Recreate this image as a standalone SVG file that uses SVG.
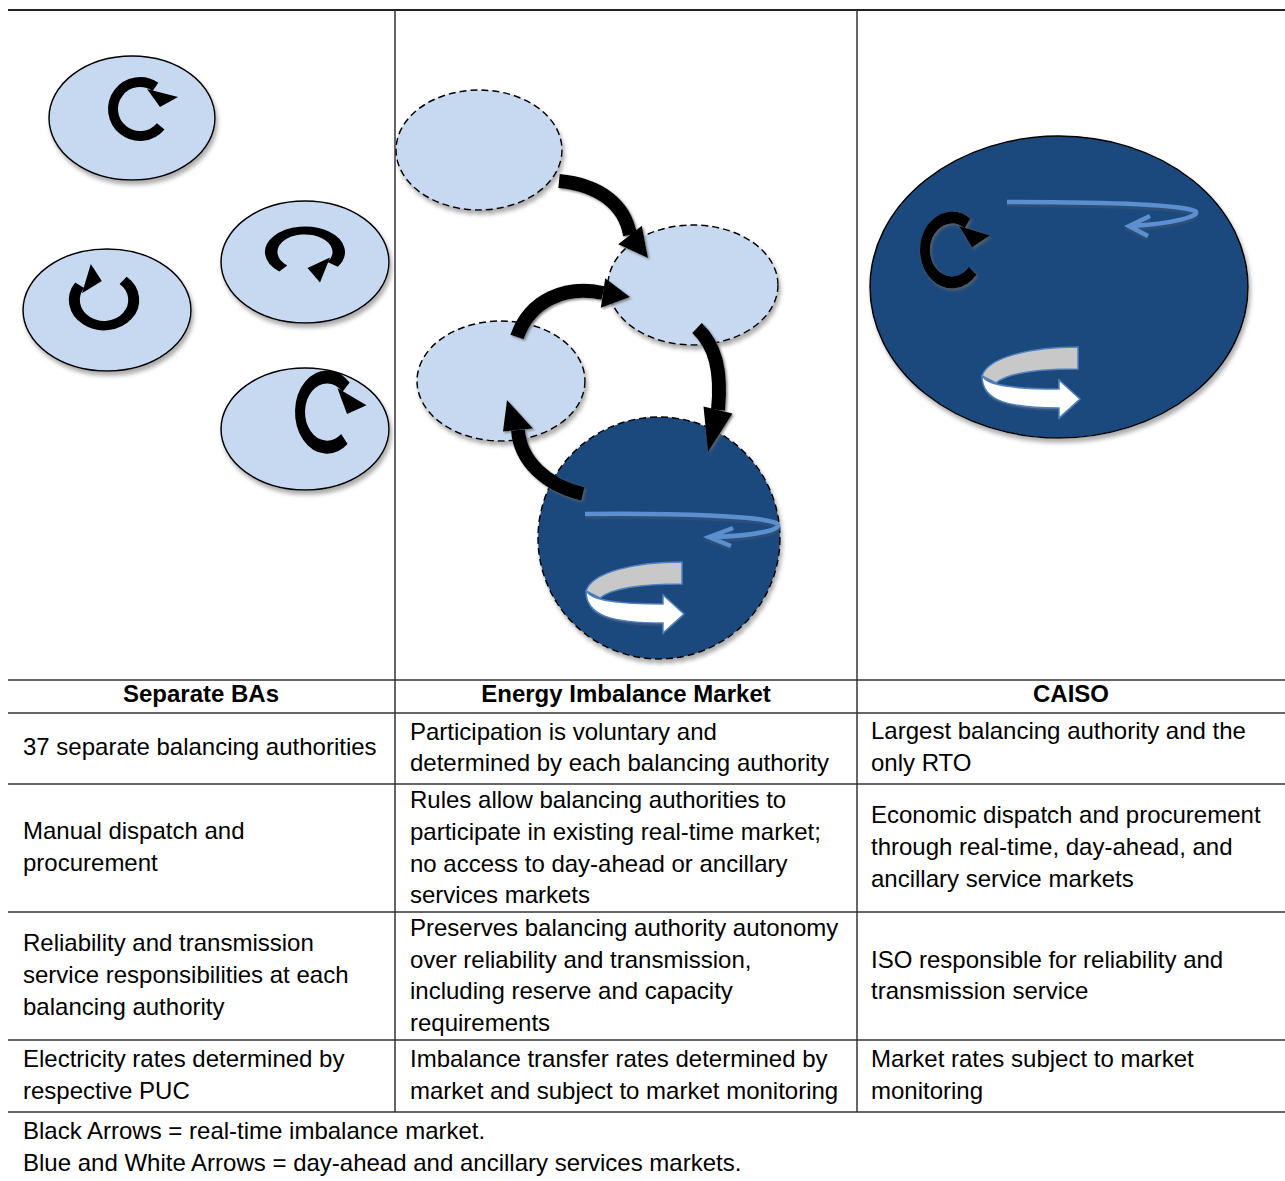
<svg xmlns="http://www.w3.org/2000/svg" xmlns:xlink="http://www.w3.org/1999/xlink" width="1285" height="1181" viewBox="0 0 1285 1181">
<style>
.t{font-family:"Liberation Sans",Arial,sans-serif;font-size:24px;fill:#000}
.h{font-weight:bold;text-anchor:middle}
.ba{fill:#c6d9f1;stroke:#000;stroke-width:1.5}
.eim{fill:#c6d9f1;stroke:#000;stroke-width:1.5;stroke-dasharray:7 4}
.dark{fill:#1f497d;stroke:#000;stroke-width:1.5}
.grid{stroke:#333;stroke-width:1.5;fill:none}
.blk{fill:none;stroke:#000;stroke-width:14}
.blue{fill:none;stroke:#5b8fd0;stroke-width:4.5;stroke-linejoin:miter}
.blueS{fill:none;stroke:#2c4f7a;stroke-width:4.5}
</style>
<defs>
<filter id="sh" x="-20%" y="-20%" width="140%" height="140%">
<feDropShadow dx="2" dy="4" stdDeviation="2" flood-color="#777" flood-opacity="0.6"/>
</filter>
<filter id="hal" x="-20%" y="-20%" width="140%" height="140%">
<feDropShadow dx="1.5" dy="1.5" stdDeviation="1.2" flood-color="#666" flood-opacity="0.8"/>
</filter>
<g id="carr">
<path d="M20.7,17.4 A27,27 0 1 1 15.5,-22.1" fill="none" stroke="#000" stroke-width="10"/>
<polygon points="7,-20 38,-12 20,-2" fill="#000"/>
</g>
<g id="ribbon">
<path d="M682,562 L682,584 C645,584 612,588 600,598 L586,591 C592,572 635,562 682,562 Z" fill="#c8c8c8" stroke="#4f81bd" stroke-width="1.5"/>
<path d="M588,596 C592,606 622,608 663,608 L663,598 L684,616 L663,635 L663,626 C615,626 585,618 588,596 Z" fill="#34557d"/>
<path d="M586,590 C590,601 620,604 663,604 L663,595 L684,614 L663,633 L663,623 C615,623 585,617 586,590 Z" fill="#fff" stroke="#4f81bd" stroke-width="1.5"/>
</g>
</defs>

<g id="table-grid">
<line x1="8" y1="10" x2="1285" y2="10" stroke="#222" stroke-width="2.2"/>
<line class="grid" x1="8" y1="680" x2="1285" y2="680"/>
<line class="grid" x1="8" y1="713" x2="1285" y2="713"/>
<line class="grid" x1="8" y1="784" x2="1285" y2="784"/>
<line class="grid" x1="8" y1="912" x2="1285" y2="912"/>
<line class="grid" x1="8" y1="1040" x2="1285" y2="1040"/>
<line class="grid" x1="8" y1="1112" x2="1285" y2="1112"/>
<line class="grid" x1="395" y1="10" x2="395" y2="1112"/>
<line class="grid" x1="857" y1="10" x2="857" y2="1112"/>
</g>

<g id="ba1"><ellipse class="ba" cx="132" cy="118" rx="83" ry="62" filter="url(#sh)"/><use xlink:href="#carr" transform="translate(140,109)"/></g>
<g id="ba2"><ellipse class="ba" cx="305" cy="262" rx="84" ry="61" filter="url(#sh)"/><use xlink:href="#carr" transform="translate(305,252) scale(1.25,0.8) rotate(90)"/></g>
<g id="ba3"><ellipse class="ba" cx="107" cy="310" rx="84" ry="61" filter="url(#sh)"/><use xlink:href="#carr" transform="translate(104,300) scale(1.1,0.95) rotate(-90)"/></g>
<g id="ba4"><ellipse class="ba" cx="305" cy="429" rx="84" ry="61" filter="url(#sh)"/><use xlink:href="#carr" transform="translate(327,412) scale(1,1.3) rotate(10)"/></g>

<g id="eimA"><ellipse class="eim" cx="479" cy="150" rx="83" ry="60" filter="url(#sh)"/></g>
<g id="eimB"><ellipse class="eim" cx="693" cy="285" rx="85" ry="60" filter="url(#sh)"/></g>
<g id="eimC"><ellipse class="eim" cx="501" cy="381" rx="84" ry="60" filter="url(#sh)"/></g>
<g id="eimD">
<circle cx="659" cy="538" r="121" class="dark" style="stroke-dasharray:7 4" filter="url(#sh)"/>
<path class="blueS" d="M585,517 C680,516 760,519 776,526 C786,531 760,539 712,540 M733,531 L709,540 L731,549"/>
<path class="blue" d="M585,514 C680,513 760,516 776,523 C786,528 760,536 712,537 M733,528 L709,537 L731,546"/>
<use xlink:href="#ribbon"/>
</g>

<g id="caiso">
<ellipse cx="1059" cy="287" rx="189" ry="151" class="dark" filter="url(#sh)"/>
<use xlink:href="#carr" transform="translate(952,250) scale(1,1.2)" filter="url(#hal)"/>
<path class="blueS" d="M1007,205 C1110,205 1180,208 1195,214 C1203,219 1170,227 1132,229 M1150,219 L1129,229 L1148,239"/>
<path class="blue" d="M1007,202 C1110,202 1180,205 1195,211 C1203,216 1170,224 1132,226 M1150,216 L1129,226 L1148,236"/>
<use xlink:href="#ribbon" transform="translate(396,-215)"/>
</g>

<g id="connectors" filter="url(#hal)">
<path class="blk" d="M559,181 C600,185 625,205 630,235"/>
<polygon points="641.8,225.8 618.2,244.2 648,258"/>
<path class="blk" d="M517,337 C530,300 565,285 603,293"/>
<polygon points="605.2,278.2 600.8,307.8 630,297"/>
<path class="blk" d="M697,328 C715,345 722,370 718,410"/>
<polygon points="732.5,413.6 703.5,406.4 708,452"/>
<path class="blk" d="M583,494 C545,485 520,460 518,430"/>
<polygon points="533,428.5 503,431.5 507,400"/>
</g>

<g id="text">
<text class="t h" x="201" y="702">Separate BAs</text>
<text class="t h" x="626" y="702">Energy Imbalance Market</text>
<text class="t h" x="1071" y="702">CAISO</text>

<text class="t" x="23" y="755">37 separate balancing authorities</text>
<text class="t" x="410" y="740">Participation is voluntary and</text>
<text class="t" x="410" y="771">determined by each balancing authority</text>
<text class="t" x="871" y="739">Largest balancing authority and the</text>
<text class="t" x="871" y="771">only RTO</text>

<text class="t" x="23" y="839">Manual dispatch and</text>
<text class="t" x="23" y="871">procurement</text>
<text class="t" x="410" y="808">Rules allow balancing authorities to</text>
<text class="t" x="410" y="840">participate in existing real-time market;</text>
<text class="t" x="410" y="872">no access to day-ahead or ancillary</text>
<text class="t" x="410" y="903">services markets</text>
<text class="t" x="871" y="823">Economic dispatch and procurement</text>
<text class="t" x="871" y="855">through real-time, day-ahead, and</text>
<text class="t" x="871" y="887">ancillary service markets</text>

<text class="t" x="23" y="951">Reliability and transmission</text>
<text class="t" x="23" y="983">service responsibilities at each</text>
<text class="t" x="23" y="1015">balancing authority</text>
<text class="t" x="410" y="936">Preserves balancing authority autonomy</text>
<text class="t" x="410" y="968">over reliability and transmission,</text>
<text class="t" x="410" y="999">including reserve and capacity</text>
<text class="t" x="410" y="1031">requirements</text>
<text class="t" x="871" y="968">ISO responsible for reliability and</text>
<text class="t" x="871" y="999">transmission service</text>

<text class="t" x="23" y="1067">Electricity rates determined by</text>
<text class="t" x="23" y="1099">respective PUC</text>
<text class="t" x="410" y="1067">Imbalance transfer rates determined by</text>
<text class="t" x="410" y="1099">market and subject to market monitoring</text>
<text class="t" x="871" y="1067">Market rates subject to market</text>
<text class="t" x="871" y="1099">monitoring</text>

<text class="t" x="23" y="1139">Black Arrows = real-time imbalance market.</text>
<text class="t" x="23" y="1171">Blue and White Arrows = day-ahead and ancillary services markets.</text>
</g>
</svg>
